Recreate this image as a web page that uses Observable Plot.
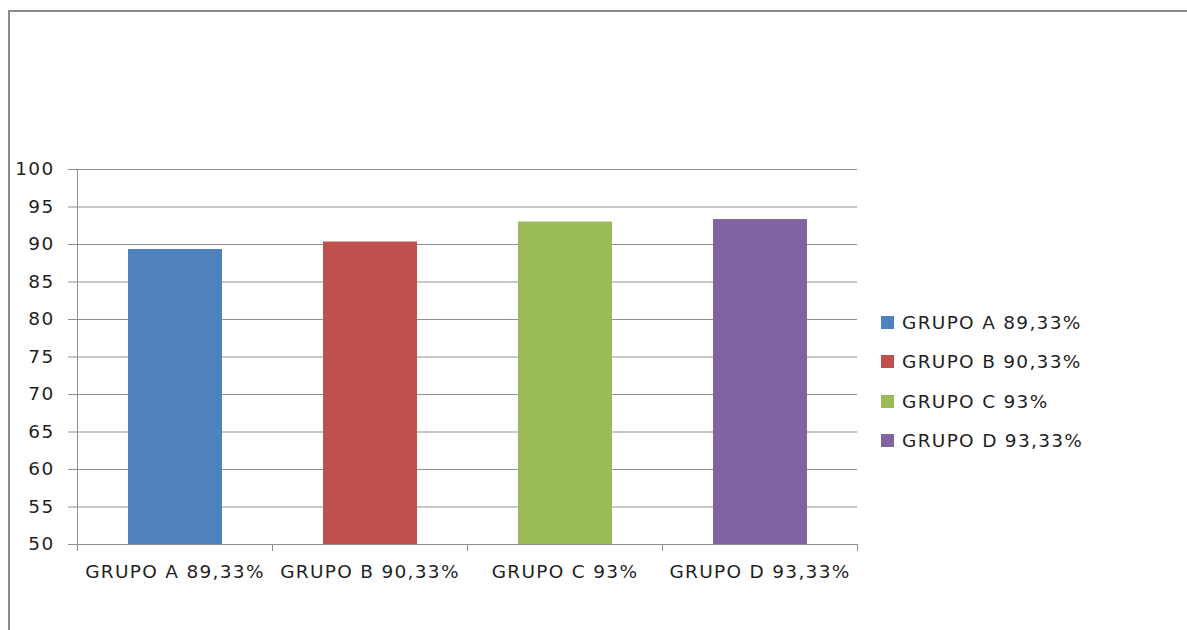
<!DOCTYPE html>
<html>
<head>
<meta charset="utf-8">
<script src="https://cdn.jsdelivr.net/npm/d3@7"></script>
<script src="https://cdn.jsdelivr.net/npm/@observablehq/plot@0.6"></script>
<style>
  html, body { margin: 0; padding: 0; background: #fff; }
  body { width: 1187px; height: 630px; position: relative; overflow: hidden; font-family: "DejaVu Sans", sans-serif; }
  #frame { position: absolute; left: 8px; top: 10px; width: 1200px; height: 640px; border-left: 2px solid #8a8a8a; border-top: 2px solid #8a8a8a; box-sizing: border-box; }
  #chart { position: absolute; left: 0; top: 0; }
  #chart svg text { letter-spacing: 1.3px; }
  #legend { position: absolute; left: 881px; top: 303px; color: #1f1f1f; font-size: 18.5px; letter-spacing: 1.3px; }
  .item { display: flex; align-items: center; height: 39.3px; }
  .sw { width: 13px; height: 13px; margin-right: 8px; }
</style>
</head>
<body>
<div id="frame"></div>
<div id="chart"></div>
<div id="legend"></div>
<script>
const categories = ["GRUPO A 89,33%", "GRUPO B 90,33%", "GRUPO C 93%", "GRUPO D 93,33%"];
const values = [89.33, 90.33, 93, 93.33];
const colors = ["#4F81BD", "#C0504D", "#9BBB59", "#8064A2"];
const yTicks = [50, 55, 60, 65, 70, 75, 80, 85, 90, 95, 100];

const data = categories.map((c, i) => ({ i, category: c, value: values[i] }));

const chart = Plot.plot({
  width: 1187,
  height: 630,
  marginLeft: 77,
  marginRight: 330,
  marginTop: 169,
  marginBottom: 86,
  style: { fontFamily: "'DejaVu Sans', sans-serif", fontSize: "18.5px", color: "#1f1f1f", background: "transparent" },
  x: { domain: [0, categories.length], axis: null },
  y: { domain: [50, 100], axis: null },
  color: { domain: categories, range: colors },
  marks: [
    Plot.ruleY(yTicks, { stroke: "#8f8f8f", strokeWidth: 1 }),
    Plot.rectY(data, { x1: d => d.i, x2: d => d.i + 1, y1: 50, y2: "value", fill: "category", insetLeft: 51, insetRight: 50 }),
    Plot.axisY({ ticks: yTicks, tickSize: 9, tickPadding: 14, stroke: "#8f8f8f", fill: "#1f1f1f", fontSize: 18.5, label: null }),
    Plot.ruleX([0], { stroke: "#8f8f8f" }),
    Plot.ruleY([50], { stroke: "#8f8f8f" }),
    Plot.axisX({ ticks: d3.range(0, categories.length + 1), tickSize: 7, tickFormat: () => "", stroke: "#8f8f8f", label: null }),
    Plot.axisX({ ticks: categories.map((c, i) => i + 0.5), tickSize: 0, tickPadding: 20, tickFormat: t => categories[Math.round(t - 0.5)], fill: "#1f1f1f", fontSize: 18.5, label: null })
  ]
});
document.getElementById("chart").append(chart);

const legend = document.getElementById("legend");
categories.forEach((c, i) => {
  const item = document.createElement("div");
  item.className = "item";
  const sw = document.createElement("div");
  sw.className = "sw";
  sw.style.background = colors[i];
  const label = document.createElement("span");
  label.textContent = c;
  item.append(sw, label);
  legend.append(item);
});
</script>
</body>
</html>
